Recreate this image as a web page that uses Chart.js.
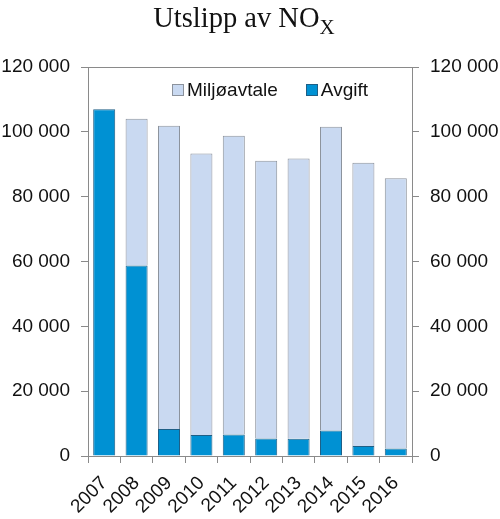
<!DOCTYPE html>
<html><head><meta charset="utf-8">
<script src="https://cdn.jsdelivr.net/npm/chart.js@4"></script>
<style>
html,body{margin:0;padding:0;background:#fff;}
#wrap{position:relative;width:500px;height:519px;}
#title{position:absolute;left:0;width:488px;top:2px;text-align:center;font-family:"Liberation Serif","Times New Roman",serif;font-size:28.5px;color:#111;}
#title sub{font-size:21px;vertical-align:-7px;}
#legend{position:absolute;left:172px;top:79px;font-family:"Liberation Sans",Arial,sans-serif;font-size:19px;color:#111;white-space:nowrap;}
#legend span.item{display:inline-flex;align-items:center;margin-right:28px;}
#legend span.box{display:inline-block;width:10px;height:10px;border:1px solid;margin-right:3px;}
</style></head>
<body>
<div id="wrap">
<canvas id="c" width="500" height="519"></canvas>
<div id="title">Utslipp av NO<sub>X</sub></div>
<div id="legend"></div>
</div>
<script>
const categories = ["2007","2008","2009","2010","2011","2012","2013","2014","2015","2016"];
const avgift = [107000, 58800, 8300, 6500, 6600, 5400, 5300, 7900, 3100, 2300];
const totals = [107000, 104000, 101900, 93300, 98800, 91100, 91800, 101600, 90500, 85700];
const miljoavtale = totals.map((t,i)=>t-avgift[i]);
const yTicks = [0, 20000, 40000, 60000, 80000, 100000, 120000];

const colAvgift = '#0091d3', bdAvgift = '#1f5f86';
const colMiljo = '#c9d9f1', bdMiljo = '#8c929c';
const axisCol = '#8a8a8a';
const fontFam = '"Liberation Sans", Arial, sans-serif';
const fmt = v => String(v).replace(/\B(?=(\d{3})+(?!\d))/g, ' ');

const datasets = [
  {label:'Avgift', data:avgift, backgroundColor:colAvgift, borderColor:bdAvgift, borderWidth:1, stack:'s', barPercentage:0.68, categoryPercentage:1},
  {label:'Miljøavtale', data:miljoavtale, backgroundColor:colMiljo, borderColor:bdMiljo, borderWidth:1, stack:'s', barPercentage:0.68, categoryPercentage:1}
];

const lg = document.getElementById('legend');
datasets.slice().reverse().forEach(d=>{
  const it = document.createElement('span'); it.className='item';
  const b = document.createElement('span'); b.className='box';
  b.style.background = d.backgroundColor; b.style.borderColor = d.borderColor;
  it.appendChild(b); it.appendChild(document.createTextNode(d.label));
  lg.appendChild(it);
});

const yCommon = (pos) => ({
  position: pos, min: 0, max: 120000,
  afterBuildTicks: s => { s.ticks = yTicks.map(v=>({value:v})); },
  afterFit: s => { s.width = 88; },
  grid: {display:true, drawOnChartArea:false, drawTicks:true, tickLength:7, color:axisCol},
  border: {display:true, color:axisCol, width:1},
  ticks: {color:'#111', font:{family:fontFam, size:19}, padding:11, callback: v => fmt(v)}
});

new Chart(document.getElementById('c'), {
  type: 'bar',
  data: {labels: categories, datasets},
  options: {
    responsive:false, animation:false, devicePixelRatio:1,
    layout:{padding:{top:67, left:0, right:0, bottom:0}},
    plugins:{legend:{display:false}, title:{display:false}, tooltip:{enabled:false}},
    scales:{
      x:{
        stacked:true, position:'bottom',
        afterFit: s => { s.height = 63; },
        grid:{display:true, drawOnChartArea:false, offset:true, tickLength:7, color:axisCol},
        border:{display:true, color:axisCol, width:1},
        ticks:{color:'#111', font:{family:fontFam, size:19}, minRotation:45, maxRotation:45, padding:9, autoSkip:false}
      },
      xTop:{
        type:'category', labels:categories, position:'top', offset:true,
        afterFit: s => { s.height = 0; },
        grid:{display:false}, ticks:{display:false},
        border:{display:true, color:axisCol, width:1}
      },
      y: Object.assign(yCommon('left'), {stacked:true}),
      y2: yCommon('right')
    }
  }
});
</script>
</body></html>
